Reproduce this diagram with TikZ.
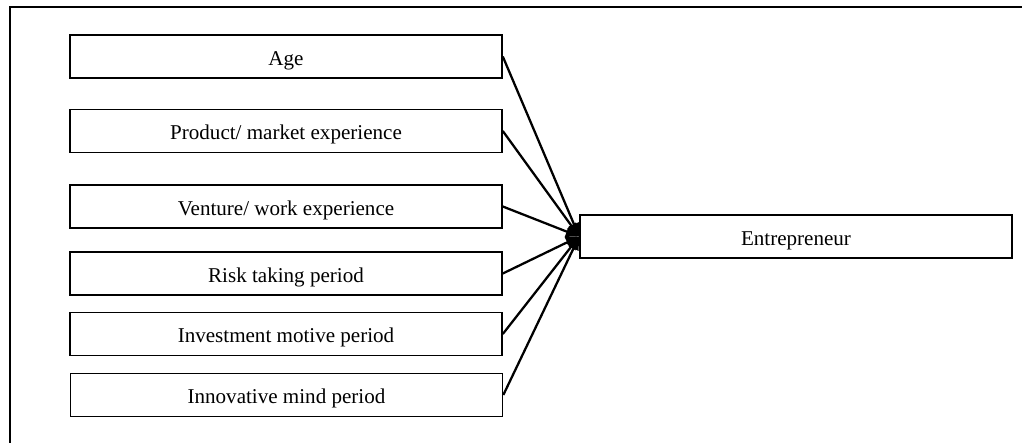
\documentclass[tikz,border=0pt]{standalone}
\usepackage{fontspec}
\setmainfont{Liberation Serif}
\usetikzlibrary{arrows.meta}
\begin{document}
\begin{tikzpicture}[x=0.75pt,y=-0.75pt,
		factor/.style={draw=black,line width=1.2pt,minimum width=324pt,minimum height=32pt,inner sep=0pt,text height=12.8pt,text depth=0pt,font=\fontsize{15.8}{18}\selectfont},
		link/.style={line width=1.7pt,-{Triangle[length=10pt,width=8pt]}}]
		\useasboundingbox (0,0) rectangle (1022,443);
		\draw [line width=1.9pt] (10,443) -- (10,7) -- (1022,7);
		\node [factor] (age) at (286,56.5) {Age};
		\node [factor] (prod) at (286,131) {Product/ market experience};
		\node [factor] (vent) at (286,206.5) {Venture/ work experience};
		\node [factor] (risk) at (286,273.5) {Risk taking period};
		\node [factor] (inv) at (286,334) {Investment motive period};
		\node [factor] (innov) at (286.5,395) {Innovative mind period};
		\node [factor] (ent) at (796,236.5) {Entrepreneur};
		\draw [link] (age.east) -- (ent.west);
		\draw [link] (prod.east) -- (ent.west);
		\draw [link] (vent.east) -- (ent.west);
		\draw [link] (risk.east) -- (ent.west);
		\draw [link] (inv.east) -- (ent.west);
		\draw [link] (innov.east) -- (ent.west);
	\end{tikzpicture}
\end{document}
